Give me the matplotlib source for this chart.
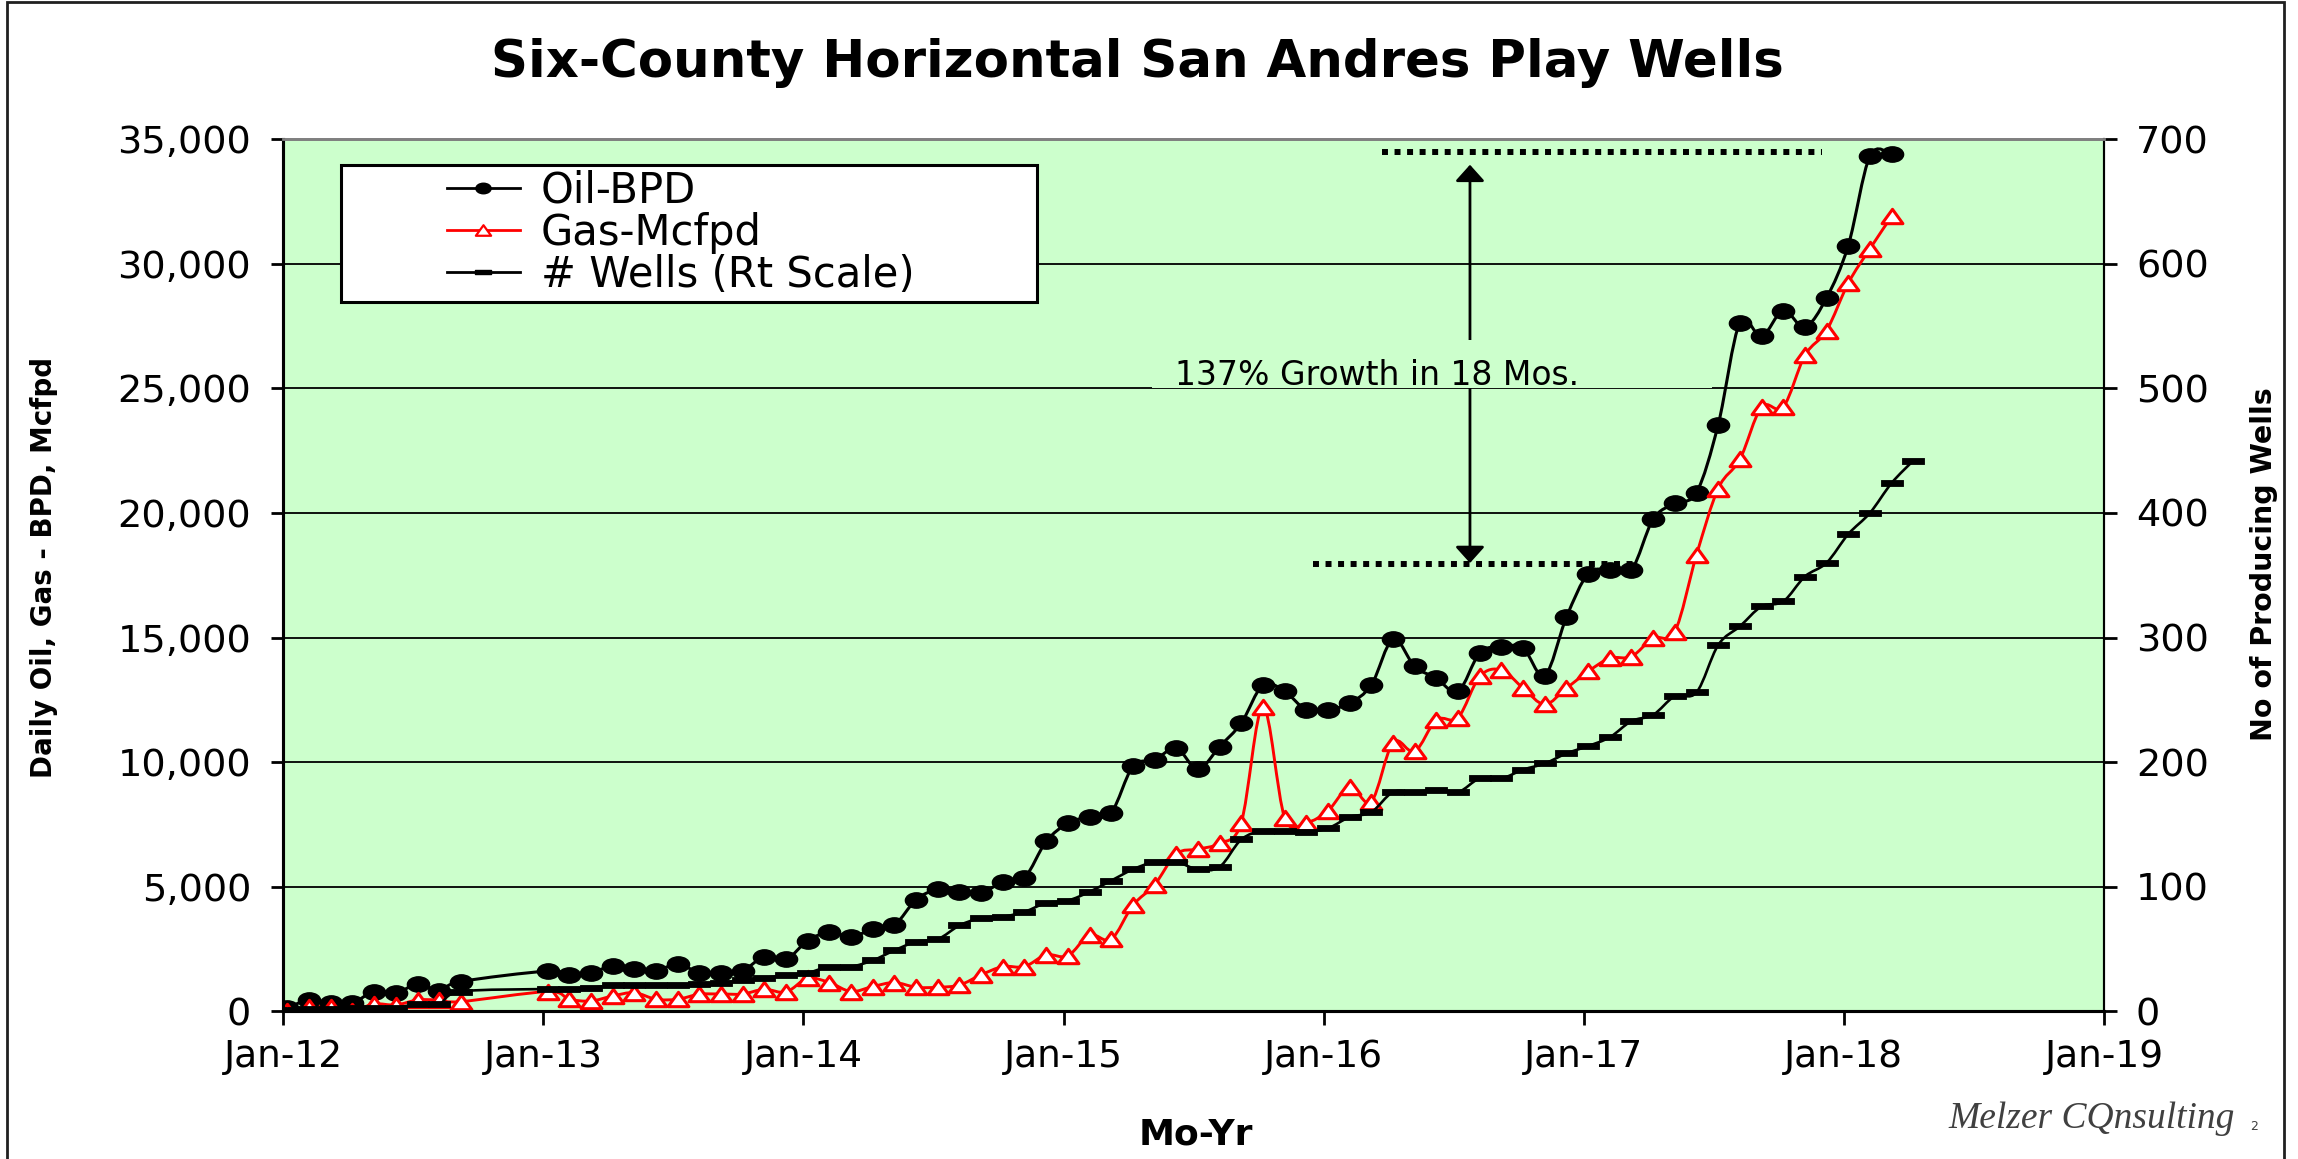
import numpy as np
import pandas as pd
import matplotlib
matplotlib.use("Agg")
import matplotlib.pyplot as plt
from matplotlib.path import Path
from matplotlib.patches import PathPatch, Rectangle
from matplotlib.lines import Line2D
from matplotlib.transforms import Affine2D
from matplotlib.ticker import FuncFormatter, MultipleLocator

plt.rcParams['font.family'] = ['DejaVu Sans']

# monthly data, Oct-Dec 2012 not reported
months = [m for m in pd.period_range('2012-01', '2018-04', freq='M')
          if not (m.year == 2012 and m.month >= 10)]

oil = [150, 460, 350, 350, 800, 730, 1100, 840, 1200,
       1620, 1450, 1560, 1820, 1720, 1640, 1900, 1560, 1530, 1640, 2200, 2090,
       2840, 3180, 3000, 3300, 3470, 4480, 4900, 4810, 4740, 5210, 5370, 6820,
       7550, 7820, 7980, 9830, 10090, 10560, 9720, 10630, 11570, 13100, 12840, 12100,
       12100, 12370, 13100, 14940, 13840, 13370, 12840, 14380, 14640, 14580, 13470, 15820,
       17560, 17720, 17720, 19750, 20390, 20820, 23540, 27640, 27080, 28120, 27460, 28630,
       30730, 34320, 34390]
gas = [30, 190, 170, 30, 300, 260, 460, 460, 395,
       795, 490, 420, 620, 755, 490, 490, 690, 700, 700, 890, 780,
       1330, 1160, 800, 1000, 1160, 970, 970, 1060, 1470, 1800, 1800, 2270,
       2230, 3070, 2900, 4260, 5080, 6320, 6510, 6750, 7580, 12230, 7780, 7580,
       8050, 9020, 8420, 10790, 10430, 11700, 11790, 13440, 13700, 12970, 12320, 12970,
       13640, 14170, 14240, 14980, 15240, 18320, 20980, 22150, 24250, 24250, 26320, 27320,
       29220, 30600, 31900]
wells = [1, 2, 2, 3, 3, 3, 6, 6, 16,
         18, 18, 19, 21, 21, 21, 21, 22, 23, 25, 27, 29,
         31, 36, 36, 41, 49, 56, 58, 69, 75, 76, 80, 87,
         89, 96, 105, 114, 120, 120, 114, 116, 138, 145, 145, 144,
         147, 156, 160, 176, 176, 178, 176, 187, 187, 194, 199, 207,
         213, 220, 233, 238, 253, 256, 294, 309, 325, 329, 349, 360,
         383, 400, 424, 442]

year_labels = ['Jan-12', 'Jan-13', 'Jan-14', 'Jan-15', 'Jan-16', 'Jan-17', 'Jan-18', 'Jan-19']

# annotation values
base_level = 17950
peak_level = 34480
growth_text = '137% Growth in 18 Mos.'

BG = '#ccffcc'


def smooth_path(x, y):
    # Excel-like smoothed line (Catmull-Rom as cubic Bezier)
    pts = np.column_stack([x, y]).astype(float)
    n = len(pts)
    verts, codes = [pts[0]], [Path.MOVETO]
    for i in range(n - 1):
        p0, p1 = pts[max(i - 1, 0)], pts[i]
        p2, p3 = pts[i + 1], pts[min(i + 2, n - 1)]
        verts += [p1 + (p2 - p0) / 6, p2 - (p3 - p1) / 6, p2]
        codes += [Path.CURVE4] * 3
    return Path(verts, codes)


# month position (data sit a few days into each month)
xm = np.array([(m.year - 2012) * 12 + m.month - 1 for m in months]) + 0.2
x_og = xm[:len(oil)]

ellipse = Path.unit_circle().transformed(Affine2D().scale(1.45, 1.0))
tri = Path([(0, 1), (-1.45, -1), (1.45, -1), (0, 1)],
           [Path.MOVETO, Path.LINETO, Path.LINETO, Path.CLOSEPOLY])
dash = Path([(-1, -0.24), (1, -0.24), (1, 0.24), (-1, 0.24), (-1, -0.24)],
            [Path.MOVETO, Path.LINETO, Path.LINETO, Path.LINETO, Path.CLOSEPOLY])

fig = plt.figure(figsize=(22.98, 11.59), dpi=100)
ax = fig.add_axes([0.1232, 0.1273, 0.7924, 0.7527])
ax.set_facecolor(BG)
ax2 = ax.twinx()

# series
ax.add_patch(PathPatch(smooth_path(x_og, oil), fill=False, ec='black', lw=2.2, zorder=3))
ax.plot(x_og, oil, ls='none', marker=ellipse, ms=16, mfc='black', mec='black', zorder=4)
ax.add_patch(PathPatch(smooth_path(x_og, gas), fill=False, ec='red', lw=2.1, zorder=3))
ax.plot(x_og, gas, ls='none', marker=tri, ms=15, mfc='white', mec='red', mew=2.2, zorder=4)
ax2.add_patch(PathPatch(smooth_path(xm, wells), fill=False, ec='black', lw=1.9, zorder=3))
ax2.plot(xm, wells, ls='none', marker=dash, ms=16, mfc='black', mec='black', mew=0.6, zorder=4)

# axes
ax.set_xlim(0, 84)
ax.set_ylim(0, 35000)
ax2.set_ylim(0, 700)
ax.set_xticks(np.arange(0, 85, 12))
ax.set_xticklabels(year_labels)
ax.yaxis.set_major_locator(MultipleLocator(5000))
ax.yaxis.set_major_formatter(FuncFormatter(lambda v, p: f'{v:,.0f}'))
ax2.yaxis.set_major_locator(MultipleLocator(100))
ax.grid(axis='y', color='black', lw=1.3)
ax.set_axisbelow(True)

ax.tick_params(axis='x', length=10, width=2, pad=10, labelsize=27, direction='out')
ax.tick_params(axis='y', length=9, width=2, pad=14, labelsize=27.5, direction='out')
ax2.tick_params(axis='y', length=9, width=2, pad=14, labelsize=27.5, direction='out')
for a in (ax, ax2):
    a.spines['left'].set_linewidth(2.2)
    a.spines['bottom'].set_linewidth(2.2)
    a.spines['right'].set_linewidth(1.5)
    a.spines['top'].set_color('#808080')
    a.spines['top'].set_linewidth(2)

# growth annotation
dots = dict(color='black', lw=4.3, linestyles=(0, (1, 1.1)), zorder=2)
ax.hlines(peak_level, 50.7, 71.0, **dots)
ax.hlines(base_level, 47.5, 62.4, **dots)
ax.annotate('', xy=(54.75, 33970), xytext=(54.75, base_level + 40),
            arrowprops=dict(arrowstyle='<|-|>,head_length=0.5,head_width=0.45',
                            color='black', lw=2, mutation_scale=20,
                            shrinkA=0, shrinkB=0), zorder=2)
ax.add_patch(Rectangle((40.1, 25000), 25.8, 1950, fc=BG, ec='none', zorder=2.5))
ax.text(50.46, 25150, growth_text, ha='center', va='baseline', fontsize=23.8, zorder=5)

# legend with a separate frame
ax2.add_patch(Rectangle((0.0318, 0.813), 0.3822, 0.157, transform=ax2.transAxes,
                        fc='white', ec='black', lw=2.2, zorder=6))
handles = [
    Line2D([], [], color='black', lw=2, marker=ellipse, ms=11, mfc='black', mec='black'),
    Line2D([], [], color='red', lw=2, marker=tri, ms=11, mfc='white', mec='red', mew=1.6),
    Line2D([], [], color='black', lw=2, marker=dash, ms=11, mfc='black', mec='black'),
]
leg = ax2.legend(handles, ['Oil-BPD', 'Gas-Mcfpd', '# Wells (Rt Scale)'],
                 loc='upper left', bbox_to_anchor=(0.090, 0.965), frameon=False,
                 fontsize=30, borderpad=0, borderaxespad=0, handlelength=1.75,
                 handletextpad=0.5, labelspacing=0.0)
leg.set_zorder(7)

# titles and labels
fig.text(0.495, 0.946, 'Six-County Horizontal San Andres Play Wells',
         ha='center', va='center', fontsize=37, fontweight='bold')
fig.text(0.019, 0.51, 'Daily Oil, Gas - BPD, Mcfpd', rotation=90,
         ha='center', va='center', fontsize=20, fontweight='bold')
fig.text(0.985, 0.513, 'No of Producing Wells', rotation=90,
         ha='center', va='center', fontsize=20.5, fontweight='bold')
fig.text(0.5205, 0.021, 'Mo-Yr', ha='center', va='center', fontsize=26, fontweight='bold')
fig.text(0.910, 0.035, 'Melzer CQnsulting', ha='center', va='center', fontsize=27,
         family='Liberation Serif', style='italic', color='#404040')
fig.text(0.981, 0.028, '2', ha='center', va='center', fontsize=9, color='#404040')

# page border
fig.add_artist(Rectangle((0.003, -0.01), 0.991, 1.008, transform=fig.transFigure,
                         fill=False, ec='#202020', lw=2))

fig.savefig('out.png', dpi=100, facecolor='white')
